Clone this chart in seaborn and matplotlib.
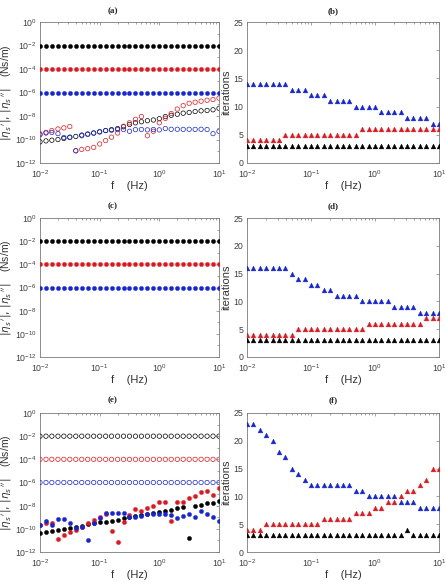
import numpy as np
import pandas as pd
import matplotlib
matplotlib.use("Agg")
import matplotlib.pyplot as plt
import matplotlib.ticker as mticker
import seaborn as sns

# frequencies (Hz), 10 points per decade
freq = [0.01, 0.0126, 0.0158, 0.02, 0.0251, 0.0316, 0.0398, 0.0501, 0.0631, 0.0794,
        0.1, 0.126, 0.158, 0.2, 0.251, 0.316, 0.398, 0.501, 0.631, 0.794,
        1.0, 1.26, 1.58, 2.0, 2.51, 3.16, 3.98, 5.01, 6.31, 7.94, 10.0]
n = len(freq)

# true values (filled dots in a/c, open circles in e)
true_black = [1e-2] * n
true_red = [1e-4] * n
true_blue = [1e-6] * n

# panel (a): recovered values, log10 of the open circles
a_black_exp = [-10.2, -10.12, -10.06, -10.0, -9.91, -9.8, -9.74, -9.62, -9.53, -9.45,
               -9.36, -9.24, -9.16, -9.07, -8.92, -8.72, -8.58, -8.49, -8.4, -8.34,
               -8.23, -8.05, -7.94, -7.85, -7.76, -7.7, -7.62, -7.56, -7.53, -7.47, -7.35]
a_red_exp = [-9.51, -9.39, -9.24, -9.1, -9.01, -8.9, -10.96, -10.84, -10.78, -10.67,
             -10.38, -10.09, -9.8, -9.45, -8.87, -8.58, -8.28, -8.05, -9.68, -9.3,
             -8.58, -8.2, -7.79, -7.41, -7.12, -6.92, -6.83, -6.74, -6.66, -6.6, -6.48]
a_blue_exp = [-9.6, -9.45, -9.4, -9.5, -9.83, -9.83, -10.96, -9.68, -9.56, -9.45,
              -9.33, -9.24, -9.21, -9.16, -9.16, -9.3, -9.16, -9.15, -9.18, -9.15,
              -9.18, -9.07, -9.13, -9.13, -9.14, -9.13, -9.14, -9.13, -9.15, -9.5, -9.3]

# panel (e): recovered values, log10 of the filled dots
e_black_exp = [-10.35, -10.26, -10.17, -10.09, -10.0, -9.91, -9.83, -9.74, -9.62, -9.53,
               -9.45, -9.39, -9.3, -9.21, -9.1, -8.97, -8.87, -8.78, -8.68, -8.6,
               -8.54, -8.5, -8.37, -8.22, -8.13, -10.8, -7.99, -7.9, -7.8, -7.73, -7.64]
e_red_exp = [-9.68, -9.5, -9.48, -10.85, -10.55, -10.29, -10.06, -9.83, -9.5, -9.2,
             -8.95, -8.7, -10.2, -11.1, -9.45, -8.8, -8.3, -8.5, -8.2, -8.0,
             -7.65, -7.7, -9.3, -7.7, -7.7, -7.35, -7.14, -6.85, -6.7, -7.1, -6.47]
e_blue_exp = [-9.7, -9.3, -9.68, -9.18, -9.18, -9.53, -9.95, -9.85, -10.93, -9.5,
              -9.1, -8.66, -8.66, -8.6, -8.6, -9.0, -8.95, -8.87, -8.72, -8.72,
              -8.72, -8.7, -8.8, -9.07, -8.9, -8.72, -8.95, -8.5, -8.72, -8.95, -9.33]

# iteration counts
b_black = [3] * n
b_red = [4, 4, 4, 4, 4, 4, 5, 5, 5, 5, 5, 5, 5, 5, 5, 5, 5, 5,
         6, 6, 6, 6, 6, 6, 6, 6, 6, 6, 6, 6, 6]
b_blue = [14, 14, 14, 14, 14, 14, 14, 13, 13, 13, 12, 12, 12, 11, 11, 11, 11,
          10, 10, 10, 10, 9, 9, 9, 9, 8, 8, 8, 8, 7, 7]
d_black = [3] * n
d_red = [4, 4, 4, 4, 4, 4, 4, 4, 5, 5, 5, 5, 5, 5, 5, 5, 5, 5, 5,
         6, 6, 6, 6, 6, 6, 6, 6, 6, 7, 7, 7]
d_blue = [16, 16, 16, 16, 16, 16, 16, 15, 14, 14, 13, 13, 12, 12, 11, 11, 11, 11,
          10, 10, 10, 10, 10, 9, 9, 9, 9, 8, 8, 8, 8]
f_black = [3] * 25 + [4] + [3] * 5
f_red = [4, 4, 4, 5, 5, 5, 5, 5, 5, 5, 5, 5, 6, 6, 6, 6, 6, 7, 7, 7,
         8, 8, 9, 9, 10, 11, 11, 12, 13, 15, 15]
f_blue = [23, 23, 22, 21, 20, 18, 17, 15, 14, 13, 12, 12, 12, 12, 12, 12, 12,
          11, 11, 10, 10, 10, 10, 10, 9, 9, 9, 8, 8, 8, 8]

BLACK, RED, BLUE = "#000000", "#e8141b", "#1424e0"
W, H = 446, 582

sns.set_style("white")
plt.rcParams["font.family"] = ["Liberation Sans", "DejaVu Sans"]
plt.rcParams["mathtext.fontset"] = "dejavusans"

fig = plt.figure(figsize=(W / 100, H / 100), dpi=100)


def make_ax(x0, top, w, bottom):
    return fig.add_axes([x0 / W, 1 - bottom / H, w / W, (bottom - top) / H])


def style(ax):
    for s in ax.spines.values():
        s.set_color("#7a7a7a")
        s.set_linewidth(0.6)
    ax.tick_params(which="both", direction="in", top=True, right=True,
                   colors="#7a7a7a", labelcolor="#404040", labelsize=6.3, width=0.5)
    ax.tick_params(which="major", length=2.5)
    ax.tick_params(axis="x", which="major", pad=3.5)
    ax.tick_params(axis="y", which="major", pad=2.5)
    ax.tick_params(which="minor", length=1.3)
    ax.set_xscale("log")
    ax.set_xlim(1e-2, 1e1)
    ax.set_xticks([1e-2, 1e-1, 1e0, 1e1])
    ax.xaxis.set_minor_locator(mticker.LogLocator(base=10, subs=np.arange(2, 10)))
    ax.xaxis.set_minor_formatter(mticker.NullFormatter())
    ax.set_xlabel("f    (Hz)", fontsize=8, color="#333333", labelpad=1)


def log_panel(ax):
    style(ax)
    ax.set_yscale("log")
    ax.set_ylim(1e-12, 1e0)
    ax.set_yticks([10.0 ** k for k in range(-12, 1, 2)])
    ax.yaxis.set_minor_locator(mticker.LogLocator(base=10, numticks=20))
    ax.yaxis.set_minor_formatter(mticker.NullFormatter())
    ax.set_ylabel(r"$|\eta_{s}\,'|,\,|\eta_{s}\,''|$    (Ns/m)", fontsize=7.5,
                  color="#333333", labelpad=0.5)


def iter_panel(ax):
    style(ax)
    ax.set_ylim(0, 25)
    ax.set_yticks([0, 5, 10, 15, 20, 25])
    ax.set_ylabel("iterations", fontsize=8, color="#333333", labelpad=2)


def dots(ax, y, color, filled=True):
    df = pd.DataFrame({"f": freq, "v": y})
    if filled:
        sns.scatterplot(data=df, x="f", y="v", ax=ax, color=color, marker="o",
                        s=9, edgecolor=color, linewidth=0.3, zorder=3)
    else:
        sns.scatterplot(data=df, x="f", y="v", ax=ax, marker="o", s=10,
                        facecolor="none", edgecolor=color, linewidth=0.5, zorder=3)


def tris(ax, y, color):
    df = pd.DataFrame({"f": freq, "v": y})
    sns.scatterplot(data=df, x="f", y="v", ax=ax, color=color, marker="^",
                    s=12, edgecolor=color, linewidth=0.3, zorder=3)


rows = [(22, 163), (218, 357), (413, 552)]
axa = make_ax(40, rows[0][0], 179, rows[0][1])
axb = make_ax(247, rows[0][0], 192, rows[0][1])
axc = make_ax(40, rows[1][0], 179, rows[1][1])
axd = make_ax(247, rows[1][0], 192, rows[1][1])
axe = make_ax(40, rows[2][0], 179, rows[2][1])
axf = make_ax(247, rows[2][0], 192, rows[2][1])

# (a)
log_panel(axa)
dots(axa, true_black, BLACK)
dots(axa, true_red, RED)
dots(axa, true_blue, BLUE)
dots(axa, 10.0 ** np.array(a_black_exp), BLACK, filled=False)
dots(axa, 10.0 ** np.array(a_red_exp), RED, filled=False)
dots(axa, 10.0 ** np.array(a_blue_exp), BLUE, filled=False)

# (c)
log_panel(axc)
dots(axc, true_black, BLACK)
dots(axc, true_red, RED)
dots(axc, true_blue, BLUE)

# (e)
log_panel(axe)
dots(axe, true_black, BLACK, filled=False)
dots(axe, true_red, RED, filled=False)
dots(axe, true_blue, BLUE, filled=False)
dots(axe, 10.0 ** np.array(e_black_exp), BLACK)
dots(axe, 10.0 ** np.array(e_red_exp), RED)
dots(axe, 10.0 ** np.array(e_blue_exp), BLUE)

# iteration panels
for ax, blk, red, blu in [(axb, b_black, b_red, b_blue),
                          (axd, d_black, d_red, d_blue),
                          (axf, f_black, f_red, f_blue)]:
    iter_panel(ax)
    tris(ax, blk, BLACK)
    tris(ax, red, RED)
    tris(ax, blu, BLUE)

for ax in [axa, axb, axc, axd, axe, axf]:
    leg = ax.get_legend()
    if leg is not None:
        leg.remove()

titles = [("(a)", 113, 11), ("(b)", 333, 11), ("(c)", 113, 206),
          ("(d)", 333, 206), ("(e)", 113, 400), ("(f)", 333, 400)]
for txt, x, y in titles:
    fig.text(x / W, 1 - y / H, txt, ha="center", va="center", fontsize=6.5,
             fontweight="bold", family=["Liberation Serif", "DejaVu Serif"])

fig.savefig("out.png", dpi=100)
